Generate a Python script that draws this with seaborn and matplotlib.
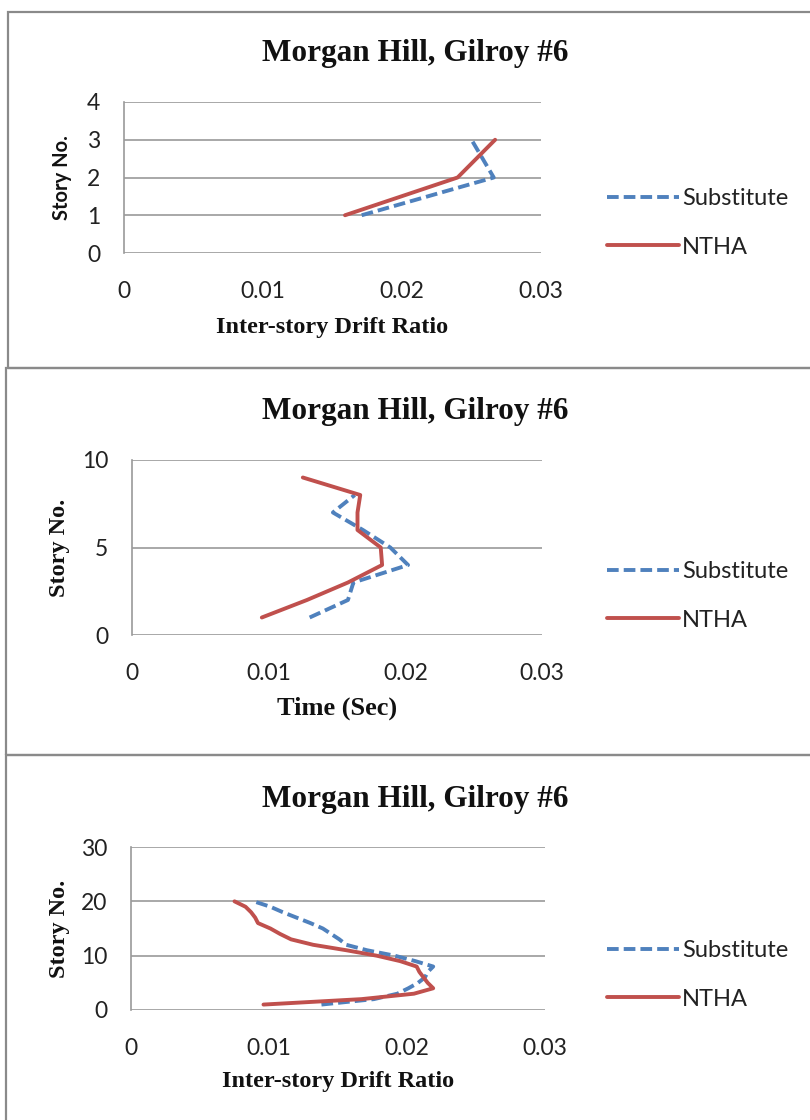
import matplotlib
matplotlib.use("Agg")
import matplotlib.pyplot as plt
import seaborn as sns
import pandas as pd
from matplotlib.patches import Rectangle

# ---------------- data ----------------
title = "Morgan Hill, Gilroy #6"
x_ticks = [0, 0.01, 0.02, 0.03]
x_tick_labels = ["0", "0.01", "0.02", "0.03"]

# Panel 1 (3 stories)
p1_story = [1, 2, 3]
p1_sub = [0.0171, 0.0266, 0.0250]
p1_ntha = [0.0159, 0.0240, 0.0267]
p1_yticks = [0, 1, 2, 3, 4]

# Panel 2 (9 stories)
p2_story_sub = [1, 2, 3, 4, 5, 6, 7, 8]
p2_sub = [0.0130, 0.0158, 0.0162, 0.0202, 0.0189, 0.0169, 0.0147, 0.0163]
p2_story_ntha = [1, 2, 3, 4, 5, 6, 7, 8, 9]
p2_ntha = [0.0095, 0.0128, 0.0158, 0.0183, 0.0182, 0.0165, 0.0165, 0.0167, 0.0125]
p2_yticks = [0, 5, 10]

# Panel 3 (20 stories)
p3_story = list(range(1, 21))
p3_sub = [0.0138, 0.0176, 0.0193, 0.0201, 0.0208, 0.0213, 0.0215, 0.0219, 0.0206, 0.0191,
          0.0171, 0.0156, 0.0151, 0.0145, 0.0139, 0.0130, 0.0120, 0.0110, 0.0101, 0.0089]
p3_ntha = [0.0096, 0.0167, 0.0205, 0.0219, 0.0215, 0.0212, 0.0209, 0.0207, 0.0195, 0.0178,
           0.0156, 0.0132, 0.0116, 0.0108, 0.0101, 0.0092, 0.0090, 0.0087, 0.0083, 0.0075]
p3_yticks = [0, 10, 20, 30]

series_labels = ["Substitute", "NTHA"]

# ---------------- style ----------------
sns.set_theme(style="white")
plt.rcParams["font.family"] = ["Lato", "DejaVu Sans"]

BLUE = "#4F81BD"
RED = "#C0504D"
GRID = "#9a9a9a"
BORDER = "#8a8a8a"
SERIF = ["Liberation Serif", "DejaVu Serif"]

W, H = 810, 1120
fig = plt.figure(figsize=(W / 100, H / 100), dpi=100)
fig.patch.set_facecolor("white")


def fx(px):
    return px / W


def fy(py):
    return 1 - py / H


# panel borders
for (x0, y0, x1, y1) in [(8, 12, 815, 368), (6, 368, 815, 755), (6, 755, 815, 1125)]:
    fig.add_artist(Rectangle((fx(x0), fy(y1)), fx(x1) - fx(x0), fy(y0) - fy(y1),
                             transform=fig.transFigure, fill=False,
                             edgecolor=BORDER, linewidth=1.6, zorder=0))

panels = [
    dict(box=(124, 102, 541, 253), ylim=(0, 4), yticks=p1_yticks,
         sub=(p1_sub, p1_story), ntha=(p1_ntha, p1_story),
         xlabel="Inter-story Drift Ratio", xlabel_size=17.5, xlabel_y=327,
         ylabel_serif=False, ylabel_x=62, title_y=54, legend_y=223),
    dict(box=(132, 460, 542, 635), ylim=(0, 10), yticks=p2_yticks,
         sub=(p2_sub, p2_story_sub), ntha=(p2_ntha, p2_story_ntha),
         xlabel="Time (Sec)", xlabel_size=19, xlabel_y=708,
         ylabel_serif=True, ylabel_x=60, title_y=412, legend_y=596),
    dict(box=(131, 847, 545, 1010), ylim=(0, 30), yticks=p3_yticks,
         sub=(p3_sub, p3_story), ntha=(p3_ntha, p3_story),
         xlabel="Inter-story Drift Ratio", xlabel_size=17.5, xlabel_y=1082,
         ylabel_serif=True, ylabel_x=60, title_y=800, legend_y=975),
]

for p in panels:
    l, t, r, b = p["box"]
    ax = fig.add_axes([fx(l), fy(b), fx(r) - fx(l), fy(t) - fy(b)])
    ax.set_facecolor("white")

    df_sub = pd.DataFrame({"drift": p["sub"][0], "story": p["sub"][1]})
    df_ntha = pd.DataFrame({"drift": p["ntha"][0], "story": p["ntha"][1]})
    sns.lineplot(data=df_sub, x="drift", y="story", sort=False, estimator=None,
                 color=BLUE, linewidth=2.8, ax=ax, label=series_labels[0],
                 linestyle=(0, (3.0, 1.3)))
    sns.lineplot(data=df_ntha, x="drift", y="story", sort=False, estimator=None,
                 color=RED, linewidth=2.8, ax=ax, label=series_labels[1])

    ax.set_xlim(0, 0.03)
    ax.set_ylim(*p["ylim"])
    ax.set_xticks(x_ticks)
    ax.set_xticklabels(x_tick_labels)
    ax.set_yticks(p["yticks"])
    ax.set_yticklabels([str(v) for v in p["yticks"]])
    ax.tick_params(axis="x", length=0, pad=20, labelsize=16.5, colors="#222222")
    ax.tick_params(axis="y", length=0, pad=17, labelsize=16.5, colors="#222222")
    ax.grid(axis="y", color=GRID, linewidth=1.2)
    ax.grid(axis="x", visible=False)
    for s in ["top", "right", "bottom"]:
        ax.spines[s].set_visible(False)
    ax.spines["left"].set_color(GRID)
    ax.spines["left"].set_linewidth(1.2)

    # x label
    ax.set_xlabel(p["xlabel"], fontsize=p["xlabel_size"], fontweight="bold",
                  family=SERIF, color="#111111", va="center")
    ax.xaxis.set_label_coords(fx((l + r) / 2), fy(p["xlabel_y"]), transform=fig.transFigure)

    # y label
    if p["ylabel_serif"]:
        ax.set_ylabel("Story No.", fontsize=17.5, fontweight="bold",
                      family=SERIF, color="#111111", va="center")
    else:
        ax.set_ylabel("Story No.", fontsize=14.5, fontweight="bold",
                      family=["Lato", "DejaVu Sans"], color="#111111", va="center")
    ax.yaxis.set_label_coords(fx(p["ylabel_x"]), fy((t + b) / 2), transform=fig.transFigure)

    # title
    fig.text(fx(415), fy(p["title_y"]), title, ha="center", va="center",
             fontsize=22.5, fontweight="bold", family=SERIF, color="#111111")

    # legend
    leg = ax.legend(loc="center left", bbox_to_anchor=(fx(607), fy(p["legend_y"])),
                    bbox_transform=fig.transFigure, frameon=False, fontsize=17,
                    handlelength=3.05, handletextpad=0.12, labelspacing=1.15,
                    borderpad=0, borderaxespad=0)
    for txt in leg.get_texts():
        txt.set_color("#222222")

fig.savefig("out.png", dpi=100, facecolor="white")
